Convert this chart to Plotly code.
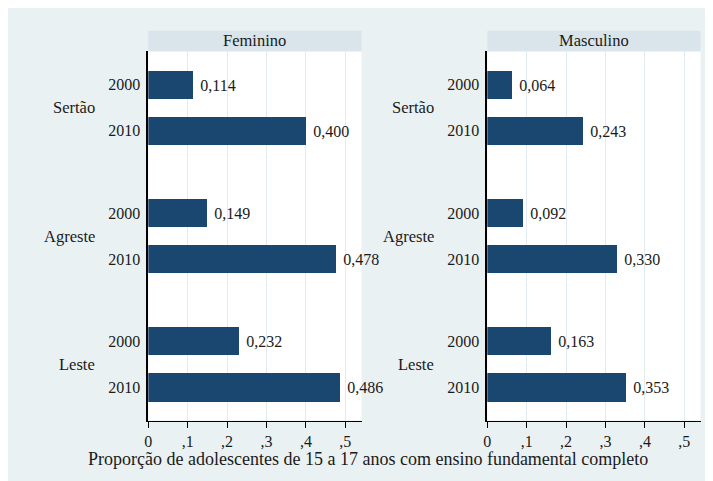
import plotly.graph_objects as go

# data
regions = ["Sertão", "Agreste", "Leste"]
years = ["2000", "2010"]
panels = ["Feminino", "Masculino"]
feminino = [0.114, 0.400, 0.149, 0.478, 0.232, 0.486]
masculino = [0.064, 0.243, 0.092, 0.330, 0.163, 0.353]
x_tick_vals = [0, 0.1, 0.2, 0.3, 0.4, 0.5]
x_tick_text = ["0", ",1", ",2", ",3", ",4", ",5"]
x_title = "Proporção de adolescentes de 15 a 17 anos com ensino fundamental completo"

W, H = 713, 481
OFF = 8  # page body margin shifts the figure in the screenshot
NAVY = "#1A476F"
BG = "#EAF1F3"
STRIP = "#D9E5EB"
GRID = "#E2EBEF"
FONT = "Liberation Serif, Times New Roman, Tinos, DejaVu Serif, serif"


def px_x(p):
    return (p - OFF) / W


def px_y(p):
    return 1 - (p - OFF) / H


# bar positions: two years per region, larger gap between regions
group_step = 2.785
ypos = [r * group_step + k for r in range(len(regions)) for k in range(len(years))]
ylabels = [y for _ in regions for y in years]

x_domains = [[px_x(148.3), px_x(361.5)], [px_x(487.3), px_x(700.5)]]
y_domain = [px_y(420.5), px_y(51)]

fig = go.Figure()
for i, vals in enumerate([feminino, masculino]):
    sfx = "" if i == 0 else str(i + 1)
    fig.add_trace(
        go.Bar(
            x=vals,
            y=ypos,
            orientation="h",
            width=0.609,
            marker=dict(color=NAVY, line=dict(width=0)),
            text=["\u00a0" + f"{v:.3f}".replace(".", ",") for v in vals],
            textposition="outside",
            textfont=dict(family=FONT, size=16, color="#1a1a1a"),
            cliponaxis=False,
            xaxis="x" + sfx,
            yaxis="y" + sfx,
            showlegend=False,
            hoverinfo="skip",
        )
    )

layout = dict(
    width=W,
    height=H,
    margin=dict(l=0, r=0, t=0, b=0),
    paper_bgcolor=BG,
    plot_bgcolor="white",
    font=dict(family=FONT, size=16, color="#1a1a1a"),
    bargap=0,
)

shapes = []
annotations = []

for i, name in enumerate(panels):
    sfx = "" if i == 0 else str(i + 1)
    layout["xaxis" + sfx] = dict(
        domain=x_domains[i],
        anchor="y" + sfx,
        range=[0, 0.541],
        tickvals=x_tick_vals,
        ticktext=x_tick_text,
        ticks="outside",
        ticklen=6,
        tickcolor="black",
        tickwidth=1,
        showline=True,
        linecolor="black",
        linewidth=1,
        showgrid=True,
        gridcolor=GRID,
        zeroline=False,
        automargin=False,
        tickfont=dict(family=FONT, size=16),
    )
    layout["yaxis" + sfx] = dict(
        domain=y_domain,
        anchor="x" + sfx,
        range=[ypos[-1] + 0.717, -0.733],
        tickvals=ypos,
        ticktext=ylabels,
        ticks="",
        ticklabelstandoff=3,
        showline=True,
        linecolor="black",
        linewidth=1.5,
        showgrid=False,
        zeroline=False,
        automargin=False,
        tickfont=dict(family=FONT, size=16),
    )
    # strip header
    shapes.append(dict(type="rect", xref="paper", yref="paper",
                       x0=x_domains[i][0], x1=x_domains[i][1],
                       y0=px_y(51.5), y1=px_y(30.7),
                       fillcolor=STRIP, line=dict(width=0), layer="below"))
    annotations.append(dict(text=name, xref="paper", yref="paper",
                            x=sum(x_domains[i]) / 2, y=px_y(41),
                            showarrow=False, xanchor="center", yanchor="middle",
                            font=dict(family=FONT, size=16.5)))
    # region labels
    for r, reg in enumerate(regions):
        annotations.append(dict(text=reg, xref="x" + sfx + " domain", yref="y" + sfx,
                                x=-0.239, y=(ypos[2 * r] + ypos[2 * r + 1]) / 2,
                                showarrow=False, xanchor="right", yanchor="middle",
                                font=dict(family=FONT, size=16.5)))

annotations.append(dict(text=x_title, xref="paper", yref="paper",
                        x=px_x(367.5), y=px_y(459), showarrow=False,
                        xanchor="center", yanchor="middle",
                        font=dict(family=FONT, size=18)))

layout["shapes"] = shapes
layout["annotations"] = annotations
fig.update_layout(**layout)

fig.write_html("out.html")
